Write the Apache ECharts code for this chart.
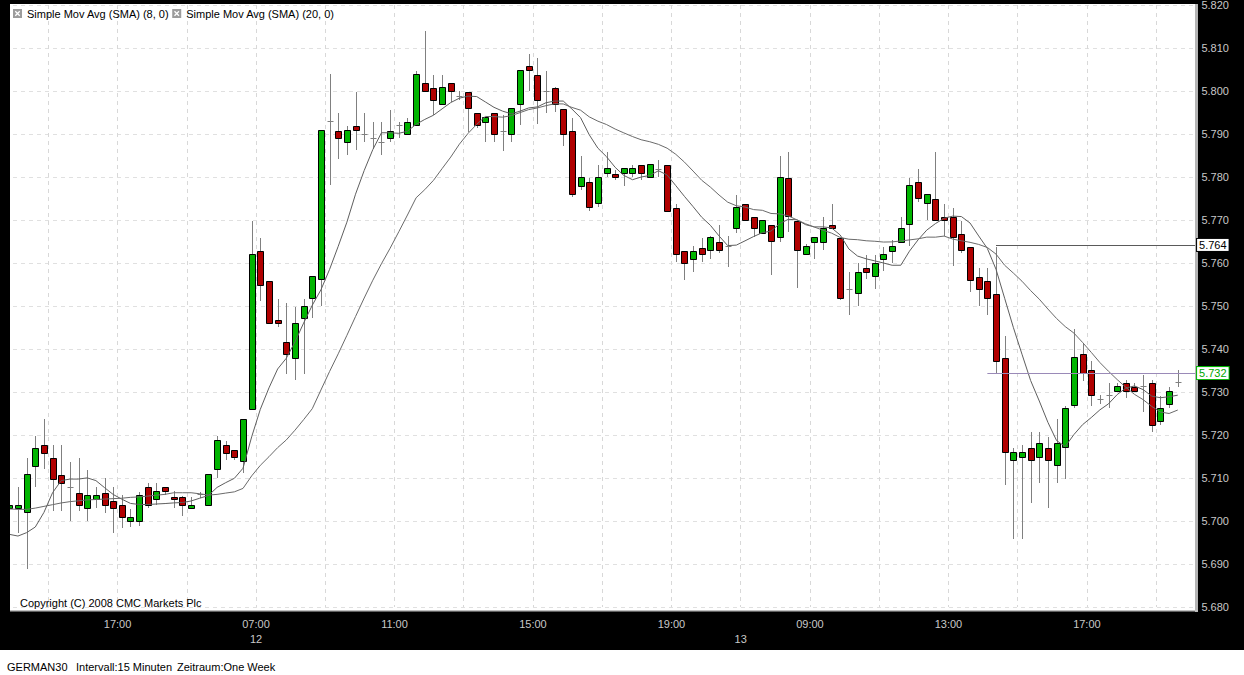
<!DOCTYPE html>
<html>
<head>
	<meta charset="utf-8" />
	<title>GERMAN30 - Intervall 15 Minuten</title>
	<script src="https://cdn.jsdelivr.net/npm/echarts/dist/echarts.min.js"></script>
	<style>html, body { margin: 0; padding: 0; background: #000; }</style>
</head>
<body>
	<div id="main" style="width: 1244px;height: 675px;"></div>
	<script type="text/javascript">

		// trading sessions (15 minute bars)
		var sessionDays = ['11', '12', '13'];
		var sessionStart = ['13:45', '07:00', '07:00'];
		var sessionBars = [29, 56, 51];
		var emptySlots = 2;

		// OHLC, one entry per bar
		var opens = [5.7031,5.7031,5.7021,5.7128,5.7176,5.7147,5.7108,5.7080,5.7066,5.7031,
			5.7050,5.7066,5.7047,5.7037,5.7000,5.7000,5.7078,5.7050,5.7078,5.7056,
			5.7056,5.7031,5.7062,5.7038,5.7120,5.7176,5.7166,5.7140,5.7260,5.7628,
			5.7558,5.7467,5.7416,5.7380,5.7471,5.7519,5.7562,5.7930,5.7908,5.7882,
			5.7919,5.7901,5.7891,5.7882,5.7890,5.7921,5.7899,5.7921,5.8018,5.8007,
			5.7969,5.8018,5.7989,5.7997,5.7948,5.7929,5.7948,5.7908,5.7899,5.7969,
			5.8059,5.8038,5.7999,5.8006,5.7957,5.7907,5.7780,5.7788,5.7739,5.7809,
			5.7806,5.7809,5.7809,5.7827,5.7800,5.7818,5.7827,5.7728,5.7627,5.7609,
			5.7636,5.7631,5.7649,5.7639,5.7681,5.7737,5.7707,5.7670,5.7688,5.7660,
			5.7798,5.7698,5.7621,5.7650,5.7650,5.7688,5.7658,5.7540,5.7530,5.7588,
			5.7569,5.7609,5.7629,5.7650,5.7691,5.7788,5.7740,5.7749,5.7707,5.7707,
			5.7667,5.7637,5.7567,5.7557,5.7528,5.7378,5.7141,5.7150,5.7169,5.7150,
			5.7169,5.7131,5.7171,5.7270,5.7389,5.7350,5.7284,5.7294,5.7302,5.7320,
			5.7311,5.7313,5.7320,5.7232,5.7272,5.7323];
		var closes = [5.7038,5.7038,5.7110,5.7169,5.7158,5.7098,5.7089,5.7080,5.7038,5.7060,
			5.7060,5.7038,5.7031,5.7010,5.7010,5.7060,5.7038,5.7069,5.7069,5.7050,
			5.7038,5.7038,5.7062,5.7110,5.7189,5.7158,5.7149,5.7238,5.7622,5.7550,
			5.7461,5.7461,5.7389,5.7461,5.7500,5.7570,5.7909,5.7930,5.7891,5.7909,
			5.7910,5.7901,5.7891,5.7882,5.7908,5.7921,5.7929,5.8039,5.8000,5.7979,
			5.8009,5.8000,5.7989,5.7960,5.7921,5.7939,5.7899,5.7908,5.7960,5.8049,
			5.8049,5.7979,5.7999,5.7970,5.7899,5.7760,5.7800,5.7730,5.7800,5.7820,
			5.7800,5.7820,5.7820,5.7809,5.7830,5.7818,5.7721,5.7622,5.7600,5.7629,
			5.7622,5.7660,5.7631,5.7639,5.7730,5.7701,5.7681,5.7700,5.7651,5.7800,
			5.7710,5.7631,5.7639,5.7660,5.7681,5.7681,5.7519,5.7540,5.7579,5.7579,
			5.7600,5.7621,5.7639,5.7681,5.7781,5.7751,5.7760,5.7700,5.7700,5.7660,
			5.7631,5.7561,5.7540,5.7519,5.7372,5.7160,5.7160,5.7160,5.7141,5.7181,
			5.7141,5.7181,5.7262,5.7382,5.7344,5.7292,5.7284,5.7294,5.7313,5.7302,
			5.7302,5.7313,5.7223,5.7263,5.7302,5.7323];
		var lows = [5.7028,5.6971,5.6889,5.7080,5.7121,5.7023,5.7023,5.7000,5.7023,5.7000,
			5.7031,5.7019,5.6973,5.6983,5.6985,5.6989,5.7031,5.7038,5.7061,5.7031,
			5.7011,5.7031,5.7053,5.7038,5.7099,5.7141,5.7141,5.7111,5.7260,5.7512,
			5.7461,5.7452,5.7343,5.7328,5.7341,5.7471,5.7500,5.7781,5.7843,5.7851,
			5.7863,5.7882,5.7864,5.7851,5.7881,5.7890,5.7899,5.7921,5.8000,5.7944,
			5.7969,5.7974,5.7979,5.7905,5.7913,5.7881,5.7882,5.7860,5.7881,5.7921,
			5.8000,5.7923,5.7948,5.7952,5.7872,5.7753,5.7770,5.7722,5.7730,5.7800,
			5.7792,5.7780,5.7800,5.7793,5.7800,5.7800,5.7721,5.7602,5.7561,5.7578,
			5.7602,5.7609,5.7623,5.7591,5.7670,5.7701,5.7660,5.7670,5.7573,5.7650,
			5.7671,5.7542,5.7621,5.7609,5.7631,5.7678,5.7515,5.7480,5.7501,5.7563,
			5.7540,5.7581,5.7600,5.7650,5.7639,5.7743,5.7701,5.7700,5.7662,5.7592,
			5.7623,5.7532,5.7501,5.7480,5.7342,5.7083,5.6958,5.6958,5.7042,5.7088,
			5.7031,5.7088,5.7098,5.7262,5.7325,5.7267,5.7271,5.7263,5.7302,5.7286,
			5.7302,5.7254,5.7208,5.7223,5.7263,5.7312];
		var highs = [5.7042,5.7078,5.7147,5.7197,5.7237,5.7176,5.7177,5.7137,5.7147,5.7118,
			5.7080,5.7099,5.7080,5.7061,5.7027,5.7067,5.7088,5.7088,5.7078,5.7069,
			5.7057,5.7056,5.7067,5.7110,5.7197,5.7187,5.7166,5.7238,5.7698,5.7659,
			5.7558,5.7517,5.7508,5.7498,5.7517,5.7570,5.7909,5.8039,5.7950,5.7919,
			5.7998,5.7950,5.7929,5.7929,5.7956,5.7929,5.7937,5.8046,5.8139,5.8038,
			5.8038,5.8018,5.7999,5.7997,5.7948,5.7939,5.7948,5.7944,5.7960,5.8049,
			5.8086,5.8077,5.8046,5.8010,5.7957,5.7937,5.7849,5.7797,5.7828,5.7859,
			5.7817,5.7820,5.7828,5.7827,5.7830,5.7840,5.7827,5.7738,5.7627,5.7639,
			5.7658,5.7662,5.7689,5.7662,5.7759,5.7737,5.7707,5.7700,5.7688,5.7850,
			5.7858,5.7698,5.7645,5.7660,5.7707,5.7737,5.7658,5.7578,5.7600,5.7619,
			5.7619,5.7637,5.7654,5.7707,5.7798,5.7819,5.7760,5.7858,5.7738,5.7728,
			5.7697,5.7637,5.7588,5.7588,5.7637,5.7431,5.7169,5.7177,5.7208,5.7208,
			5.7196,5.7238,5.7268,5.7447,5.7411,5.7371,5.7294,5.7321,5.7321,5.7328,
			5.7321,5.7340,5.7328,5.7290,5.7311,5.7352];

		// moving averages before enough bars are on screen
		var sma8Head = [5.6969, 5.6965, 5.6973, 5.6986, 5.7020, 5.7066, 5.7094];
		var sma20Head = [5.7028, 5.7027, 5.7027, 5.7030, 5.7034, 5.7038, 5.7042, 5.7045, 5.7047, 5.7049,
			5.7050, 5.7051, 5.7052, 5.7053, 5.7055, 5.7056, 5.7058, 5.7060, 5.7062];

		// price lines on the right
		var levelValues = [5.7642, 5.7344];
		var levelText = ['5.764', '5.732'];
		var levelFrom = [114, 113];

		// x axis tick labels (bar index where the label sits on the left edge)
		var tickIndex = [13, 29, 45, 61, 77, 85, 93, 109, 125];
		var tickTime = ['17:00', '07:00', '11:00', '15:00', '19:00', '', '09:00', '13:00', '17:00'];
		var tickDay = ['', '12', '', '', '', '13', '', '', ''];

		var FONT = '"Liberation Sans", Arial, sans-serif';
		var GRID_L = 5, GRID_R = 1199.4, GRID_T = 5, GRID_B = 607;

		// category names: day + bar time
		var categories = [];
		sessionDays.forEach(function (d, s) {
			var p = sessionStart[s].split(':');
			var m = (+p[0]) * 60 + (+p[1]);
			for (var b = 0; b < sessionBars[s]; b++) {
				var t = m + b * 15;
				categories.push(d + ' ' + ('0' + Math.floor(t / 60)).slice(-2) + ':' + ('0' + t % 60).slice(-2));
			}
		});
		for (var e = 0; e < emptySlots; e++) categories.push('');
		var band = (GRID_R - GRID_L) / categories.length;

		var candles = opens.map(function (o, i) {
			return [i, o, closes[i], lows[i], highs[i]];
		});

		function movingAverage(values, n, head) {
			return values.map(function (v, i) {
				if (i < head.length) return head[i];
				var s = 0;
				for (var j = i - n + 1; j <= i; j++) s += values[j];
				return +(s / n).toFixed(5);
			});
		}

		function renderCandle(params, api) {
			var i = api.value(0);
			var pO = api.coord([i, api.value(1)]);
			var pC = api.coord([i, api.value(2)]);
			var pL = api.coord([i, api.value(3)]);
			var pH = api.coord([i, api.value(4)]);
			var xc = Math.round(pO[0]);
			var up = api.value(2) >= api.value(1);
			var top = Math.round(Math.min(pO[1], pC[1])) + 0.5;
			var bot = Math.round(Math.max(pO[1], pC[1])) + 0.5;
			var kids = [{
				type: 'line',
				shape: { x1: xc + 0.5, y1: Math.round(pH[1]), x2: xc + 0.5, y2: Math.round(pL[1]) },
				style: { stroke: '#808080', lineWidth: 1 }
			}];
			if (bot - top < 1) {
				kids.push({
					type: 'line',
					shape: { x1: xc - 2.5, y1: top, x2: xc + 3.5, y2: top },
					style: { stroke: '#808080', lineWidth: 1 }
				});
			} else {
				kids.push({
					type: 'rect',
					shape: { x: xc - 2.5, y: top, width: 6, height: bot - top },
					style: { fill: up ? '#00b400' : '#b00000', stroke: '#000', lineWidth: 1 }
				});
			}
			return { type: 'group', children: kids };
		}

		var levelStyle = [
			{ line: '#5a5a5a', text: '#000', box: '#000' },
			{ line: '#9a8ab8', text: '#00a800', box: '#00b400' }
		];

		var myChart = echarts.init(document.getElementById('main'), null, { renderer: 'svg' });

		var option = {
			backgroundColor: '#000',
			animation: false,
			textStyle: { fontFamily: FONT },
			grid: {
				left: GRID_L, right: 1244 - GRID_R, top: GRID_T, bottom: 675 - GRID_B,
				outerBoundsMode: 'none', containLabel: false
			},
			legend: {
				left: 13, top: 8, padding: 0,
				itemWidth: 9, itemHeight: 9, itemGap: 3, itemTextGap: 3,
				selectedMode: false,
				icon: 'path://M0,0H10V10H0Z M2,3L4,5L2,7L3,8L5,6L7,8L8,7L6,5L8,3L7,2L5,4L3,2Z',
				itemStyle: { color: '#9c9c9c', borderWidth: 0 },
				textStyle: { color: '#000', fontSize: 11, fontFamily: FONT },
				data: ['Simple Mov Avg (SMA) (8, 0)', 'Simple Mov Avg (SMA) (20, 0)']
			},
			xAxis: {
				type: 'category',
				data: categories,
				boundaryGap: true,
				axisLine: { show: false },
				axisTick: { show: false },
				splitLine: {
					show: true,
					interval: function (idx) { return idx >= 5 && (idx - 5) % 8 === 0; },
					lineStyle: { color: '#d8d8d8', type: [4, 4], width: 1 }
				},
				axisLabel: {
					interval: function (idx) { return tickIndex.indexOf(idx) >= 0; },
					formatter: function (val, idx) {
						var t = tickIndex.indexOf(idx);
						return t < 0 ? '' : tickTime[t] + '\n' + tickDay[t];
					},
					color: '#c8c8c8', fontSize: 11, fontFamily: FONT,
					lineHeight: 15, margin: 9.5,
					padding: [0, band, 0, 0]
				}
			},
			yAxis: {
				type: 'value',
				position: 'right',
				min: 5.68, max: 5.82, interval: 0.01,
				axisLine: { show: false },
				axisTick: { show: false },
				splitLine: { show: true, lineStyle: { color: '#e0e0e0', type: [4, 4], width: 1 } },
				axisLabel: {
					formatter: function (v) { return v.toFixed(3); },
					color: '#c8c8c8', fontSize: 11, fontFamily: FONT, margin: 2
				}
			},
			series: [
				{
					name: 'GERMAN30',
					type: 'custom',
					renderItem: renderCandle,
					data: candles,
					encode: { x: 0, y: [1, 2, 3, 4] },
					clip: true,
					z: 2
				},
				{
					name: 'Simple Mov Avg (SMA) (8, 0)',
					type: 'line',
					data: movingAverage(closes, 8, sma8Head),
					showSymbol: false,
					symbol: 'none',
					lineStyle: { color: '#5e5e5e', width: 1 },
					itemStyle: { color: '#5e5e5e' },
					z: 3
				},
				{
					name: 'Simple Mov Avg (SMA) (20, 0)',
					type: 'line',
					data: movingAverage(closes, 20, sma20Head),
					showSymbol: false,
					symbol: 'none',
					lineStyle: { color: '#6a6a6a', width: 1 },
					itemStyle: { color: '#6a6a6a' },
					z: 3
				},
				{
					name: 'levels',
					type: 'line',
					data: [],
					z: 60,
					markLine: {
						silent: true,
						z: 60,
						symbol: ['none', 'none'],
						animation: false,
						data: levelValues.map(function (v, n) {
							var st = levelStyle[n];
							return [
								{
									coord: [levelFrom[n], v],
									lineStyle: { color: st.line, width: 1, type: 'solid' },
									label: {
										show: true, position: 'end', distance: 2,
										formatter: levelText[n],
										color: st.text, backgroundColor: '#fff',
										borderColor: st.box, borderWidth: 1,
										padding: [1, 2, 0, 2], fontSize: 11, fontFamily: FONT
									}
								},
								{ coord: [categories.length - 1, v] }
							];
						})
					}
				}
			],
			graphic: [
				// white chart paper
				{ type: 'rect', z: -10, shape: { x: 10, y: 4, width: 1186, height: 607 }, style: { fill: '#fff' } },
				// frame around the plot
				{ type: 'rect', z: 50, shape: { x: 0, y: 0, width: 10, height: 650 }, style: { fill: '#000' } },
				{ type: 'rect', z: 50, shape: { x: 1195, y: 4, width: 3, height: 608 }, style: { fill: '#b4b4b4' } },
				{ type: 'rect', z: 50, shape: { x: 1198, y: 0, width: 3, height: 650 }, style: { fill: '#000' } },
				{ type: 'rect', z: 50, shape: { x: 10, y: 610, width: 1188, height: 1.5 }, style: { fill: '#c0c0c0' } },
				{ type: 'rect', z: 50, shape: { x: 0, y: 650, width: 1244, height: 25 }, style: { fill: '#fff' } },
				{
					type: 'text', z: 55, x: 20, y: 603,
					style: { text: 'Copyright (C) 2008 CMC Markets Plc', fill: '#000', font: '11px ' + FONT, verticalAlign: 'middle' }
				},
				{
					type: 'text', z: 55, x: 7, y: 667,
					style: { text: 'GERMAN30', fill: '#000', font: '11px ' + FONT, verticalAlign: 'middle' }
				},
				{
					type: 'text', z: 55, x: 76, y: 667,
					style: { text: 'Intervall:15 Minuten', fill: '#000', font: '11px ' + FONT, verticalAlign: 'middle' }
				},
				{
					type: 'text', z: 55, x: 177, y: 667,
					style: { text: 'Zeitraum:One Week', fill: '#000', font: '11px ' + FONT, verticalAlign: 'middle' }
				}
			]
		};

		myChart.setOption(option);

	</script>
</body>
</html>
